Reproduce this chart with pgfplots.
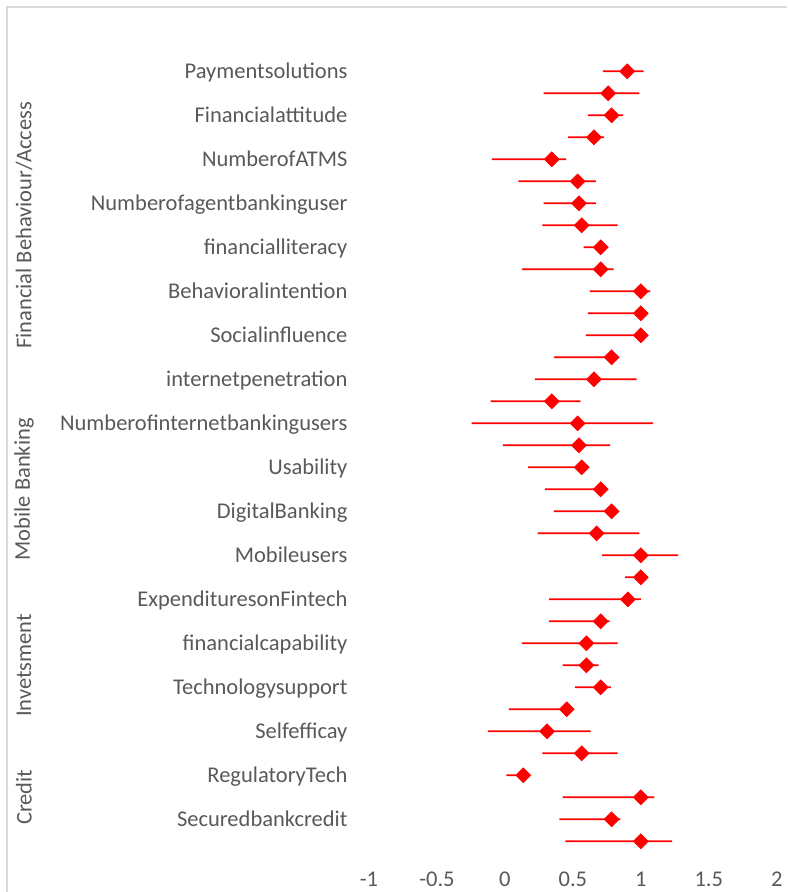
\documentclass[border=0pt]{standalone}
\usepackage{fontspec}
\setmainfont{Carlito}
\usepackage{pgfplots}
\pgfplotsset{compat=1.18}
\usepackage{pgfplotstable}

\definecolor{txtgray}{RGB}{89,89,89}
\definecolor{framegray}{RGB}{217,217,217}

% row, estimate, lower, upper
\pgfplotstableread{
row val lo hi
1 0.90 0.72 1.02
2 0.76 0.285 0.99
3 0.785 0.61 0.87
4 0.655 0.465 0.73
5 0.345 -0.095 0.45
6 0.535 0.10 0.67
7 0.545 0.285 0.67
8 0.565 0.275 0.83
9 0.705 0.58 0.76
10 0.705 0.125 0.80
11 1.00 0.625 1.07
12 1.00 0.61 1.02
13 1.00 0.595 1.02
14 0.785 0.36 0.80
15 0.655 0.22 0.97
16 0.345 -0.105 0.555
17 0.535 -0.245 1.09
18 0.545 -0.015 0.775
19 0.565 0.17 0.58
20 0.705 0.295 0.72
21 0.785 0.36 0.80
22 0.675 0.24 0.99
23 1.00 0.715 1.275
24 1.00 0.885 1.02
25 0.905 0.325 1.00
26 0.705 0.325 0.77
27 0.60 0.125 0.83
28 0.60 0.425 0.69
29 0.705 0.515 0.78
30 0.455 0.03 0.47
31 0.31 -0.125 0.63
32 0.565 0.275 0.83
33 0.135 0.01 0.15
34 1.00 0.425 1.10
35 0.785 0.40 0.85
36 1.00 0.445 1.23
}\forest

\pgfplotsset{
  forestframe/.style={
    at={(184.5pt,-431.65pt)}, anchor=south west,
    scale only axis, width=203.85pt, height=407pt,
    ymin=0, ymax=37, y dir=reverse,
    clip=false,
  },
}

\begin{document}
\begin{tikzpicture}[x=1pt,y=1pt]
\path[use as bounding box] (0,0) rectangle (393.5,-446);
\fill[framegray] (3.1,-446) rectangle (3.9,-3.1);
\fill[framegray] (3.1,-3.1) rectangle (393.5,-3.9);

% interval bars, in a hidden axis shifted by +1 so that every stacked part is positive:
% invisible part up to the lower bound, red part up to the upper bound
\begin{axis}[forestframe, xmin=0, xmax=3, hide axis, xbar stacked, bar width=0.9pt]
\addplot[draw=none, fill=none, bar shift=0pt]
  table[x expr=\thisrow{lo}+1, y=row] {\forest};
\addplot[draw=none, fill=red, bar shift=0pt]
  table[x expr=\thisrow{hi}-\thisrow{lo}, y=row] {\forest};
\end{axis}

\begin{axis}[forestframe, xmin=-1, xmax=2,
  axis line style={draw=none},
  major tick length=0pt,
  xtick={-1,-0.5,0,0.5,1,1.5,2},
  ytick={1,3,...,35},
  yticklabels={Paymentsolutions, Financialattitude, NumberofATMS,
    Numberofagentbankinguser, financialliteracy, Behavioralintention,
    Socialinfluence, internetpenetration, Numberofinternetbankingusers,
    Usability, DigitalBanking, Mobileusers, ExpendituresonFintech,
    financialcapability, Technologysupport, Selfefficay, RegulatoryTech,
    Securedbankcredit},
  tick label style={font=\fontsize{11.25}{13}\selectfont, text=txtgray, inner sep=0pt},
  xticklabel style={anchor=base, yshift=-11.6pt},
  yticklabel style={anchor=base east, xshift=-10.6pt, yshift=-3.6pt},
  /pgf/number format/assume math mode=true,
]
\addplot[only marks, mark=square*, mark size=2.6pt,
  mark options={draw=red, fill=red, rotate=45}]
  table[x=val, y=row] {\forest};
\end{axis}

\begin{scope}[every node/.style={rotate=90, text=txtgray,
    font=\fontsize{11.25}{13}\selectfont}]
\node at (12,-112.65) {Financial Behaviour/Access};
\node at (12,-244.65) {Mobile Banking};
\node at (12,-332.65) {Invetsment};
\node at (12,-398.65) {Credit};
\end{scope}
\end{tikzpicture}
\end{document}
